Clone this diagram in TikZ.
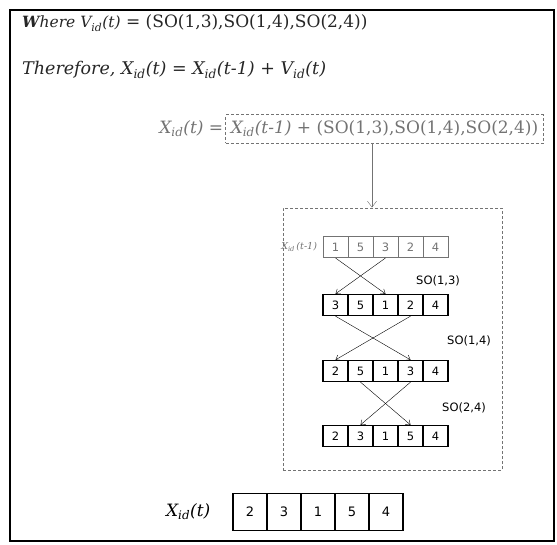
\documentclass[tikz,border=0pt]{standalone}
\usepackage{fontspec}
\setmainfont{DejaVu Serif}
\newfontfamily\cellfont{DejaVu Sans}
\usetikzlibrary{positioning,calc,arrows.meta}
\definecolor{darkink}{gray}{0.15}
\definecolor{paleink}{gray}{0.45}
\newcommand{\idx}{\textsubscript{id}}
\tikzset{
    cell/.style={
        rectangle,
        draw,
        line width=1.3pt,
        minimum width=25pt,
        minimum height=21pt,
        inner sep=0pt,
        font=\cellfont\fontsize{11.5}{13}\selectfont
    },
    oldcell/.style={cell, draw=paleink, text=paleink, line width=1pt},
    bigcell/.style={cell, minimum width=34pt, minimum height=37pt, line width=1.1pt,
        font=\cellfont\fontsize{13}{15}\selectfont},
    eqn/.style={anchor=west, inner sep=0pt, font=\itshape\fontsize{17}{20}\selectfont},
    oplabel/.style={inner sep=0pt, font=\cellfont\fontsize{11.5}{13}\selectfont},
    dashbox/.style={draw=paleink, dash pattern=on 3pt off 2pt, line width=0.9pt},
    swapline/.style={-{Straight Barb[length=4pt,width=6pt]}, thin}
}

\begin{document}
\begin{tikzpicture}[x=1pt, y=-1pt, node distance=0pt]
    \useasboundingbox (0,0) rectangle (557,545);
    \draw [line width=1.4pt] (10,10) rectangle (554,541);

    % equations
    \node (where) [eqn, text=darkink] at (22,23) {{\fontsize{15.5}{18}\selectfont\textbf{W}here V\idx(t)} \upshape= (SO(1,3),SO(1,4),SO(2,4))};
    \node (therefore) [eqn, text=darkink, font=\itshape\fontsize{17.5}{20}\selectfont] at (22,70) {Therefore, X\idx(t) = X\idx(t-1) + V\idx(t)};
    \node (expr) [eqn, dashbox, text=paleink, inner xsep=5pt, inner ysep=6pt, anchor=center] at (384.5,129) {X\idx(t-1) + \upshape(SO(1,3),SO(1,4),SO(2,4))};
    \node (lhs) [eqn, text=paleink, anchor=east, left=2pt of expr] {X\idx(t) =};

    % swap box
    \node (swapbox) [dashbox, minimum width=219pt, minimum height=262pt, inner sep=0pt] at (392.5,339) {};
    \draw [-{Straight Barb[length=6pt,width=9pt]}, paleink] ([xshift=-12.5pt]expr.south) -- ([xshift=-12.5pt]expr.south |- swapbox.north);

    % particle rows
    \foreach \v [count=\i] in {1,5,3,2,4}
        \node (a\i) [oldcell] at ({310.5+25*\i},247) {\v};
    \foreach \v [count=\i] in {3,5,1,2,4}
        \node (b\i) [cell] at ({310.5+25*\i},305) {\v};
    \foreach \v [count=\i] in {2,5,1,3,4}
        \node (c\i) [cell] at ({310.5+25*\i},371) {\v};
    \foreach \v [count=\i] in {2,3,1,5,4}
        \node (d\i) [cell] at ({310.5+25*\i},436) {\v};
    \node (oldlabel) [left=2pt of a1, text=paleink, font=\itshape\fontsize{9.5}{11}\selectfont] {X\idx\,(t-1)};

    % swap operators
    \draw [swapline] (a1.south) -- (b3.north);
    \draw [swapline] (a3.south) -- (b1.north);
    \draw [swapline] (b1.south) -- (c4.north);
    \draw [swapline] (b4.south) -- (c1.north);
    \draw [swapline] (c2.south) -- (d4.north);
    \draw [swapline] (c4.south) -- (d2.north);
    \node (so13) [oplabel] at (438,281) {SO(1,3)};
    \node (so14) [oplabel] at (469,341) {SO(1,4)};
    \node (so24) [oplabel] at (464,408) {SO(2,4)};

    % result
    \foreach \v [count=\i] in {2,3,1,5,4}
        \node (r\i) [bigcell] at ({216+34*\i},512) {\v};
    \node (result) [eqn, anchor=east, left=22pt of r1] {X\idx(t)};
\end{tikzpicture}
\end{document}
